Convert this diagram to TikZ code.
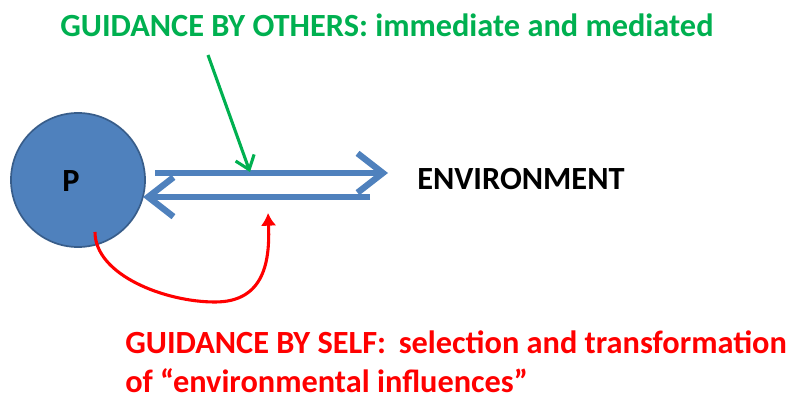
\documentclass[tikz,border=0pt]{standalone}
\usepackage{fontspec}
\setmainfont{Carlito}
\usepackage{tikz}
\usetikzlibrary{arrows.meta}
\definecolor{pblue}{HTML}{4F81BD}
\definecolor{pedge}{HTML}{385D8A}
\definecolor{ogreen}{HTML}{00B050}
\definecolor{sred}{HTML}{FF0000}
\tikzset{txt/.style={font=\fontsize{23}{27.5}\selectfont\bfseries, inner sep=0pt},
  flow/.style={draw=pblue, line width=4.5pt, -{Straight Barb[length=18pt, width=28pt]}},
  >={Latex[length=9pt, width=11pt]}}
\def\cn#1#2#3{\draw[#1] (#2) -- (#3);}

\begin{document}
\begin{tikzpicture}[x=0.025cm, y=-0.025cm]
    \useasboundingbox (0,0) rectangle (790,400);
    \node[circle, fill=pblue, draw=pedge, line width=1.2pt, minimum size=3.35cm] (P) at (78,180) {};
    \node[txt] (Plab) at (71,181) {P};
    \node[txt, anchor=base west] (env) at (417,190) {ENVIRONMENT};
    \node[txt, anchor=base west, text=ogreen] (others) at (60,37) {GUIDANCE BY OTHERS: immediate and mediated};
    \node[txt, anchor=base west, text=sred, align=left] (self) at (125,392)
        {GUIDANCE BY SELF:\, selection and transformation\\of “environmental influences”};

    \coordinate (outA) at (155,173); \coordinate (outB) at (388,173);
    \coordinate (inA) at (370,197);  \coordinate (inB) at (143,197);
    \cn{flow}{outA}{outB}
    \cn{flow}{inA}{inB}

    \coordinate (g0) at (208,55); \coordinate (g1) at (250,172);
    \cn{draw=ogreen, line width=2.2pt, -{Straight Barb[length=9pt, width=14pt]}}{g0}{g1}

    \coordinate (s0) at (95,232); \coordinate (s1) at (268,213);
    \draw[sred, line width=2.2pt, ->] (s0) .. controls (95,275) and (165,302) .. (215,302)
        .. controls (265,302) and (270,260) .. (s1);
\end{tikzpicture}
\end{document}
